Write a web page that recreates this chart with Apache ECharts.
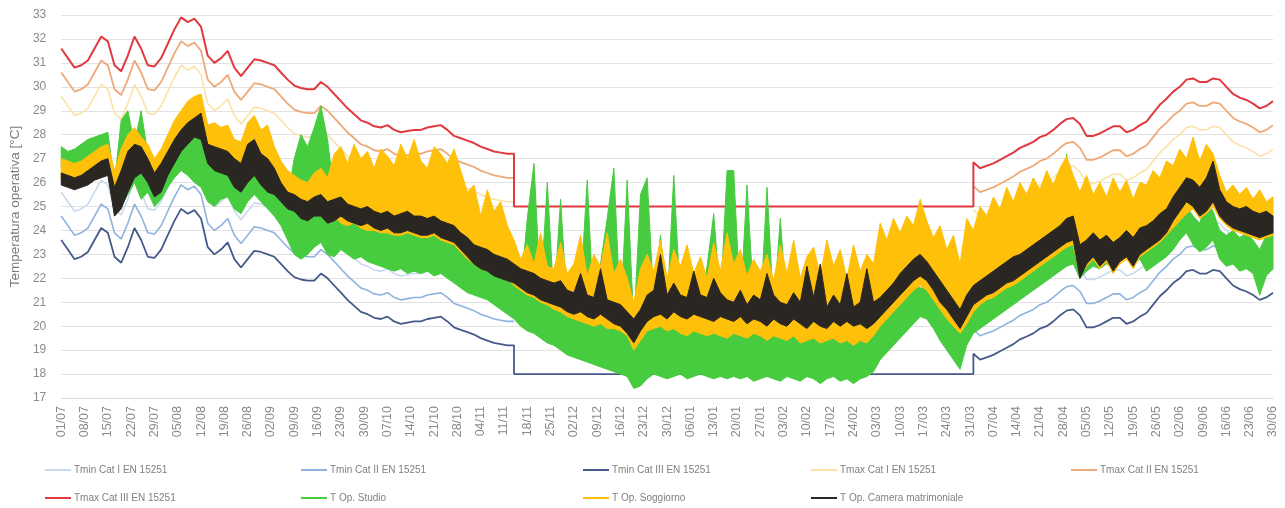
<!DOCTYPE html>
<html>
<head>
<meta charset="utf-8">
<script src="https://cdn.jsdelivr.net/npm/echarts@6/dist/echarts.min.js"></script>
<style>
  html, body { margin: 0; padding: 0; background: #ffffff; }
  #chart { width: 1285px; height: 508px; }
</style>
</head>
<body>
<div id="chart"></div>
<script>
// Weekly tick labels, 01/07 -> 30/06 (365 days, day 0 = 01/07)
const weekLabels = ['01/07','08/07','15/07','22/07','29/07','05/08','12/08','19/08','26/08','02/09',
  '09/09','16/09','23/09','30/09','07/10','14/10','21/10','28/10','04/11','11/11','18/11','25/11',
  '02/12','09/12','16/12','23/12','30/12','06/01','13/01','20/01','27/01','03/02','10/02','17/02',
  '24/02','03/03','10/03','17/03','24/03','31/03','07/04','14/04','21/04','28/04','05/05','12/05',
  '19/05','26/05','02/06','09/06','16/06','23/06','30/06'];

// Sampling step of all daily arrays (days)
const STEP = 2;

// Adaptive comfort temperature (EN 15251), free-running periods
// summer/autumn: days 0..136, spring: days 274..364
const comfortSummer = [
  27.6, 27.2, 26.8, 26.9, 27.1, 27.6, 28.1, 27.9, 26.9, 26.65,
  27.3, 28.1, 27.6, 26.9, 26.85, 27.2, 27.8, 28.4, 28.9, 28.7,
  28.85, 28.5, 27.3, 27.0, 27.2, 27.5, 26.8, 26.45, 26.8, 27.15,
  27.1, 27.0, 26.9, 26.6, 26.3, 26.05, 25.95, 25.9, 25.9, 26.2,
  26.0, 25.7, 25.4, 25.1, 24.85, 24.6, 24.5, 24.35, 24.3, 24.4,
  24.2, 24.1, 24.15, 24.2, 24.2, 24.3, 24.35, 24.4, 24.2, 23.95,
  23.85, 23.75, 23.65, 23.5, 23.4, 23.3, 23.25, 23.2, 23.2];
const comfortSpring = [
  22.85, 22.6, 22.7, 22.8, 22.95, 23.1, 23.25, 23.45, 23.57, 23.7,
  23.9, 24.0, 24.2, 24.45, 24.65, 24.7, 24.45, 23.95, 23.95, 24.05,
  24.2, 24.35, 24.35, 24.1, 24.2, 24.4, 24.55, 24.9, 25.25, 25.5,
  25.8, 26.0, 26.3, 26.35, 26.2, 26.2, 26.35, 26.3, 26.0, 25.7,
  25.55, 25.45, 25.3, 25.1, 25.2, 25.4];
const springStartDay = 274;

// Heating season: fixed category III range
const heating = { startDay: 136, endDay: 274, tMax: 25, tMin: 18 };

// Category bands around the comfort temperature (+/- K)
const catBand = { I: 2, II: 3, III: 4 };

// Measured operative temperatures: daily low / high every STEP days
const studioLo = [
  26.6, 26.5, 26.6, 26.7, 26.9, 27.0, 27.1, 27.2, 24.6, 25.0,
  25.5, 26.0, 25.3, 25.6, 25.0, 25.3, 25.8, 26.2, 26.5, 26.3,
  26.0, 25.8, 25.2, 25.0, 25.3, 25.4, 24.9, 24.7, 25.2, 25.5,
  25.2, 24.9, 24.6, 24.2, 23.6, 23.0, 22.8, 23.0, 23.3, 23.5,
  23.0, 22.9, 23.2, 23.0, 22.8, 22.9, 22.7, 22.6, 22.5, 22.4,
  22.3, 22.4, 22.2, 22.3, 22.2, 22.3, 22.1, 22.2, 22.0, 21.8,
  21.6, 21.4, 21.3, 21.2, 21.1, 20.9, 20.7, 20.5, 20.3, 20.0,
  19.8, 19.7, 19.5, 19.3, 19.2, 19.0, 18.8, 18.7, 18.6, 18.5,
  18.4, 18.3, 18.2, 18.1, 18.0, 17.9, 17.4, 17.5, 17.8, 18.0,
  17.9, 17.8, 17.9, 18.0, 17.8, 17.9, 18.0, 17.9, 17.8, 17.9,
  17.8, 17.9, 17.8, 17.9, 17.7, 17.8, 17.9, 17.8, 17.7, 17.9,
  17.8, 17.7, 17.9, 17.8, 17.6, 17.8, 17.9, 17.7, 17.8, 17.6,
  17.8, 17.9, 18.1, 18.6, 18.9, 19.2, 19.5, 19.8, 20.1, 20.4,
  20.3, 19.9, 19.4, 19.0, 18.6, 18.2, 19.2, 19.7, 19.9, 20.1,
  20.3, 20.5, 20.7, 20.9, 21.1, 21.3, 21.5, 21.7, 21.9, 22.1,
  22.3, 22.5, 22.6, 22.0, 22.3, 22.5, 22.4, 22.6, 22.5, 22.7,
  22.8, 22.6, 22.8, 22.3, 22.5, 22.7, 22.9, 23.2, 23.6, 23.9,
  23.4, 23.1, 23.3, 23.6, 22.8, 22.5, 22.6, 22.3, 22.4, 22.2,
  21.3, 22.1, 22.4];
const studioHi = [
  27.5, 27.3, 27.4, 27.6, 27.8, 27.9, 28.0, 28.1, 26.0, 28.6,
  29.0, 27.6, 29.0, 27.2, 26.5, 27.0, 27.3, 27.6, 27.8, 28.2,
  28.5, 28.4, 27.0, 26.6, 26.8, 26.9, 26.5, 26.3, 27.0, 27.4,
  26.9, 26.6, 26.2, 25.8, 25.4, 27.0, 28.0, 27.5, 28.3, 29.2,
  27.8, 25.5, 25.0, 24.9, 24.6, 24.5, 24.4, 24.3, 24.2, 24.2,
  24.0, 24.1, 23.9, 24.0, 23.9, 24.0, 23.8, 23.9, 23.7, 23.5,
  23.2, 23.0, 22.8, 22.6, 22.4, 22.3, 22.1, 21.9, 21.7, 21.5,
  24.5, 26.8, 21.3, 26.0, 21.0, 25.3, 20.7, 20.5, 21.5, 26.1,
  20.4, 22.6, 24.5, 26.6, 20.4, 26.1, 20.0, 25.5, 26.2, 21.0,
  23.8, 20.8, 26.3, 21.0, 23.3, 20.6, 20.9, 22.5, 24.7, 21.0,
  26.5, 26.5, 20.8, 25.9, 21.0, 20.6, 25.8, 20.7, 24.5, 20.6,
  20.2, 19.9, 20.3, 19.8, 20.1, 19.7, 20.2, 19.9, 19.8, 20.0,
  19.8, 20.1, 20.0, 20.3, 20.6, 20.9, 21.2, 21.5, 21.8, 21.6,
  21.6, 21.2, 20.8, 20.4, 20.0, 19.7, 20.7, 21.0, 21.3, 21.5,
  21.7, 21.9, 22.1, 22.3, 22.5, 22.7, 22.9, 23.1, 23.3, 23.5,
  23.8, 27.2, 23.9, 23.0, 23.4, 23.6, 23.5, 23.7, 23.6, 23.8,
  23.9, 23.7, 24.0, 23.4, 23.7, 24.0, 24.4, 24.8, 25.1, 25.0,
  24.6, 24.3, 25.3, 24.8, 24.0, 23.8, 24.0, 23.7, 23.9, 23.6,
  23.2, 23.8, 24.1];

const soggiornoLo = [
  26.1, 26.0, 25.9, 26.0, 26.1, 26.3, 26.4, 26.5, 25.0, 25.3,
  26.0, 26.5, 26.6, 26.2, 25.8, 26.0, 26.6, 27.2, 27.6, 27.9,
  28.1, 28.0, 27.0, 26.8, 26.9, 26.8, 26.3, 26.1, 26.5, 26.8,
  26.5, 26.2, 25.9, 25.6, 25.3, 25.1, 24.9, 24.8, 25.0, 25.0,
  24.7, 24.6, 24.3, 24.2, 24.3, 24.1, 24.0, 24.0, 23.9, 23.9,
  23.8, 23.8, 23.9, 23.8, 23.7, 23.7, 23.8, 23.6, 23.5, 23.4,
  23.1, 22.8, 22.6, 22.4, 22.3, 22.2, 22.1, 22.0, 21.7, 21.5,
  21.3, 21.2, 21.0, 20.9, 20.7, 20.6, 20.4, 20.3, 20.2, 20.1,
  20.0, 20.1, 19.9, 19.9, 19.8, 19.6, 19.0, 19.4, 19.8, 19.9,
  20.0, 19.8, 19.9, 19.7, 19.6, 19.8, 19.7, 19.6, 19.7, 19.6,
  19.5, 19.7, 19.6, 19.5, 19.7, 19.6, 19.4, 19.6, 19.5, 19.4,
  19.6, 19.3, 19.4, 19.5, 19.3, 19.4, 19.5, 19.3, 19.4, 19.2,
  19.4, 19.3, 19.6, 20.0, 20.3, 20.6, 20.9, 21.2, 21.5, 21.7,
  21.5, 21.1, 20.7, 20.3, 20.0, 19.7, 20.1, 20.6, 20.9, 21.1,
  21.2, 21.4, 21.6, 21.7, 21.9, 22.1, 22.3, 22.5, 22.7, 22.9,
  23.1, 23.3, 23.4, 22.1, 22.5, 22.8, 22.4, 22.7, 22.2, 22.6,
  22.8, 22.4, 22.9, 23.1, 23.3, 23.5, 23.8, 24.1, 24.4, 24.7,
  24.9, 24.5, 24.7, 25.0, 24.5, 24.2, 24.0, 23.9, 23.8, 23.7,
  23.6, 23.7, 23.8];
const soggiornoHi = [
  27.0, 26.9, 26.8, 26.9, 27.1, 27.3, 27.5, 27.6, 26.5, 27.4,
  28.0, 28.3, 27.9, 27.6, 27.0, 27.4, 28.0, 28.6, 29.0, 29.4,
  29.6, 29.7, 28.4, 28.5, 28.3, 28.4, 27.8, 27.7, 28.5, 28.8,
  28.2, 28.4, 27.5, 26.9, 26.5, 26.3, 26.1, 26.0, 26.4, 26.6,
  26.2, 27.2, 27.5, 26.8, 27.6, 27.0, 27.3, 26.6, 27.4, 27.1,
  26.7, 27.6, 27.0, 27.8, 26.9, 26.6, 27.5, 27.2, 26.8, 27.4,
  26.5, 25.6, 25.9, 24.6, 25.7, 24.8, 25.2, 24.2, 23.6, 22.8,
  23.4, 22.6, 23.9, 22.5, 22.4, 23.5, 22.2, 22.6, 23.8, 22.1,
  23.0, 22.5, 23.9, 22.2, 22.8, 22.0, 21.0, 22.4, 23.0, 22.3,
  23.6, 22.0, 23.2, 22.5, 23.4, 22.2, 22.9, 22.0, 23.5, 22.3,
  23.9, 22.6, 23.2, 22.1, 22.8, 22.3, 23.0, 21.9, 23.4, 22.2,
  23.6, 22.0, 22.9, 23.3, 22.1, 23.6, 22.5, 23.2, 22.0, 23.4,
  22.3, 23.0, 22.6, 24.3, 23.6, 24.5, 23.9, 24.6, 24.2, 25.3,
  24.4, 23.7, 24.2, 23.2, 23.8, 22.6, 24.5, 24.0, 25.0, 24.6,
  25.4, 24.9, 25.8, 25.2, 26.0, 25.5, 26.2, 25.7, 26.5, 25.9,
  26.6, 27.1, 26.3, 25.6, 26.3, 25.5, 26.0, 25.4, 26.2, 25.6,
  26.1, 25.3, 26.0, 25.9, 26.5, 26.2, 26.9, 26.7, 27.4, 27.0,
  27.9, 26.9, 27.6, 27.2, 26.3, 25.6, 25.9, 25.5, 25.8, 25.3,
  25.7, 25.2, 25.4];

const cameraLo = [
  25.9, 25.8, 25.7, 25.8, 25.9, 26.1, 26.2, 26.3, 24.6, 24.9,
  25.6, 26.2, 26.4, 26.0, 25.4, 25.6, 26.3, 26.8, 27.3, 27.6,
  27.9, 27.8, 26.8, 26.5, 26.4, 26.3, 25.8, 25.6, 26.0, 26.3,
  25.9, 25.6, 25.5, 25.2, 24.9, 24.8, 24.5, 24.4, 24.6, 24.6,
  24.3, 24.4, 24.6, 24.4, 24.3, 24.2, 24.3, 24.1, 24.0, 24.1,
  23.9, 23.9, 24.0, 23.9, 23.8, 23.8, 23.9, 23.7, 23.6, 23.5,
  23.2, 22.9, 22.6, 22.4, 22.3, 22.1, 22.0, 21.9, 21.8, 21.6,
  21.4, 21.3, 21.1, 21.0, 20.9, 20.8, 20.6, 20.5, 20.6, 20.4,
  20.3, 20.5, 20.3, 20.1, 20.0, 19.7, 19.3, 19.8, 20.2, 20.4,
  20.5, 20.3, 20.6, 20.4, 20.3, 20.5, 20.4, 20.3, 20.2, 20.4,
  20.3, 20.2, 20.4, 20.1, 20.3, 20.2, 20.0, 20.3, 20.1, 20.0,
  20.3, 20.1, 19.9, 20.2, 20.0, 19.9, 20.2, 20.0, 20.2, 20.0,
  20.1, 19.9, 20.1, 20.4, 20.7, 21.0, 21.3, 21.6, 21.9, 22.1,
  21.9, 21.5, 21.0, 20.7, 20.3, 19.9, 20.4, 20.9, 21.1, 21.3,
  21.4, 21.6, 21.8, 21.9, 22.1, 22.3, 22.5, 22.7, 22.9, 23.1,
  23.3, 23.5, 23.6, 22.0, 22.6, 22.9, 22.5, 22.8, 22.3, 22.7,
  22.9, 22.5, 23.0, 23.2, 23.4, 23.6, 23.9, 24.4, 24.8, 25.2,
  25.0, 24.6, 24.8, 25.2, 24.6, 24.3, 24.1, 24.0, 23.9, 23.8,
  23.7, 23.8, 23.9];
const cameraHi = [
  26.4, 26.3, 26.2, 26.3, 26.5, 26.7, 26.9, 27.0, 25.8, 26.5,
  27.3, 27.6, 27.5, 27.0, 26.4, 26.8, 27.3, 27.8, 28.2, 28.5,
  28.7, 28.9, 27.6, 27.5, 27.4, 27.3, 27.0, 26.8, 27.6, 27.8,
  27.2, 27.0, 26.6, 26.0, 25.6, 25.5, 25.3, 25.2, 25.4, 25.5,
  25.2, 25.3, 25.4, 25.1, 25.0, 24.9, 25.0, 24.8, 24.7, 24.8,
  24.6, 24.7, 24.8, 24.6, 24.6, 24.5, 24.6, 24.4, 24.3, 24.2,
  23.9, 23.7, 23.4, 23.3, 23.2, 23.0, 22.9, 22.8, 22.6, 22.4,
  22.3, 22.2, 22.0, 21.9, 21.8, 21.9, 21.5, 21.4, 22.2, 21.3,
  21.2, 22.4, 21.1, 21.0, 20.9, 20.6, 20.3, 20.7, 21.3, 21.5,
  23.0, 21.3, 21.8, 21.3, 21.2, 22.3, 21.3, 21.2, 22.0, 21.4,
  21.1, 21.0, 21.5, 20.9, 21.3, 21.1, 22.2, 21.3, 21.0, 20.9,
  21.4, 21.0, 22.5, 21.2, 22.6, 20.8, 21.3, 20.9, 22.2, 20.8,
  21.0, 22.4, 21.0, 21.2, 21.5, 21.8, 22.2, 22.5, 22.8, 23.0,
  22.7, 22.3, 21.9, 21.5, 21.1, 20.7, 21.3, 21.7, 21.9, 22.1,
  22.3, 22.5, 22.7, 22.9, 23.0, 23.2, 23.4, 23.6, 23.8, 24.0,
  24.2, 24.5, 24.6, 23.4, 23.6, 23.9, 23.6, 23.8, 23.5, 23.7,
  24.0, 23.7, 24.1, 24.2, 24.4, 24.7, 24.9, 25.4, 25.8, 26.2,
  26.1, 25.8, 26.2, 26.9, 25.7, 25.2, 25.0, 24.9, 25.0, 24.8,
  24.7, 24.8, 24.6];

// ---- series builders ----
// Comfort limit line: comfort temperature + band; during the heating
// season either the fixed value or a gap.
function limitLine(band, heatingValue) {
  const pts = comfortSummer.map((t, i) => [i * STEP, t + band]);
  if (heatingValue != null) {
    pts.push([heating.startDay, heatingValue], [heating.endDay, heatingValue]);
  } else {
    pts.push([(heating.startDay + heating.endDay) / 2, null]);
  }
  comfortSpring.forEach((t, i) => pts.push([springStartDay + i * STEP, t + band]));
  return pts;
}

// Measured series: filled band between daily low and daily high
function swingBand(name, color, lo, hi, z) {
  const rows = lo.map((v, i) => [i * STEP, v, hi[i]]);
  return {
    name: name,
    type: 'custom',
    z: z,
    silent: true,
    color: color,
    itemStyle: { color: color },
    data: rows,
    encode: { x: 0, y: [1, 2] },
    renderItem: function (params, api) {
      if (params.dataIndex !== 0) return null;
      const pts = [];
      for (let i = 0; i < rows.length; i++) pts.push(api.coord([rows[i][0], rows[i][1]]));
      for (let i = rows.length - 1; i >= 0; i--) pts.push(api.coord([rows[i][0], rows[i][2]]));
      return {
        type: 'polygon',
        shape: { points: pts },
        style: { fill: color, stroke: color, lineWidth: 1, lineJoin: 'bevel' }
      };
    }
  };
}

const limitDefs = [
  { name: 'Tmin Cat I EN 15251',   color: '#C9D9EE', width: 1.6, data: limitLine(-catBand.I, null) },
  { name: 'Tmin Cat II EN 15251',  color: '#8DB3DE', width: 1.6, data: limitLine(-catBand.II, null) },
  { name: 'Tmin Cat III EN 15251', color: '#46598A', width: 1.8, data: limitLine(-catBand.III, heating.tMin) },
  { name: 'Tmax Cat I EN 15251',   color: '#FBE3A6', width: 1.6, data: limitLine(catBand.I, null) },
  { name: 'Tmax Cat II EN 15251',  color: '#EEA979', width: 1.8, data: limitLine(catBand.II, null) },
  { name: 'Tmax Cat III EN 15251', color: '#E0393E', width: 2.0, data: limitLine(catBand.III, heating.tMax) }
];
const measuredDefs = [
  { name: 'T Op. Studio',              color: '#47CB3F', lo: studioLo,    hi: studioHi },
  { name: 'T Op. Soggiorno',           color: '#FFC00A', lo: soggiornoLo, hi: soggiornoHi },
  { name: 'T Op. Camera matrimoniale', color: '#2A2622', lo: cameraLo,    hi: cameraHi }
];

const series = limitDefs.map((s, k) => ({
  name: s.name,
  type: 'line',
  data: s.data,
  showSymbol: false,
  symbol: 'none',
  connectNulls: false,
  color: s.color,
  lineStyle: { color: s.color, width: s.width },
  itemStyle: { color: s.color },
  z: 2 + k,
  silent: true
})).concat(measuredDefs.map((s, k) => swingBand(s.name, s.color, s.lo, s.hi, 10 + k)));

const allNames = limitDefs.concat(measuredDefs);

// Legend: two rows, one component per entry
const legendCols = [40, 296, 578, 806, 1066];
const legendRows = [460, 488];
const legends = allNames.map((s, k) => ({
  data: [{ name: s.name, itemStyle: { color: s.color } }],
  left: legendCols[k % 5],
  top: legendRows[Math.floor(k / 5)],
  icon: 'rect',
  itemWidth: 26,
  itemHeight: 2,
  itemGap: 4,
  selectedMode: false,
  textStyle: { fontFamily: 'Liberation Sans, Arial, sans-serif', fontSize: 10, color: '#808080', padding: [0, 0, 0, -2] }
}));

const chart = echarts.init(document.getElementById('chart'), null, { renderer: 'canvas' });
chart.setOption({
  animation: false,
  backgroundColor: '#ffffff',
  textStyle: { fontFamily: 'Liberation Sans, Arial, sans-serif' },
  grid: { left: 57, right: 12, top: 15, bottom: 110, containLabel: false },
  legend: legends,
  xAxis: {
    type: 'value',
    min: 0,
    max: 364,
    interval: 7,
    axisLine: { show: true, lineStyle: { color: '#d9d9d9', width: 1 } },
    axisTick: { show: false },
    splitLine: { show: false },
    axisLabel: {
      rotate: 90,
      margin: 8,
      fontSize: 12.5,
      color: '#8a8a8a',
      formatter: v => weekLabels[Math.round(v / 7)] || ''
    }
  },
  yAxis: {
    type: 'value',
    min: 17,
    max: 33,
    interval: 1,
    name: 'Temperatura operativa [°C]',
    nameLocation: 'middle',
    nameGap: 38,
    nameRotate: 90,
    nameTextStyle: { fontSize: 13.5, color: '#7a7a7a' },
    axisLine: { show: false },
    axisTick: { show: false },
    splitLine: { show: true, lineStyle: { color: '#e2e2e2', width: 1 } },
    axisLabel: { fontSize: 12, color: '#8a8a8a', margin: 15 }
  },
  series: series
});
</script>
</body>
</html>
